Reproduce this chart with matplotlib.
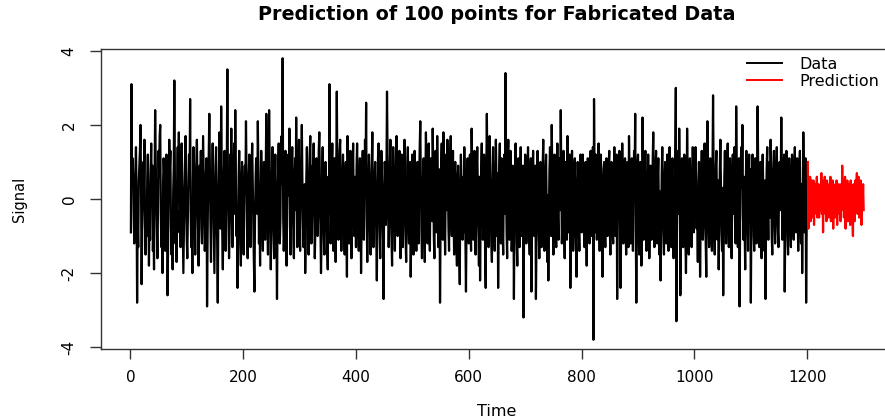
import numpy as np
import matplotlib
matplotlib.use("Agg")
import matplotlib.pyplot as plt
from matplotlib.lines import Line2D

# Observed signal, in blocks of 100 samples (t = 1 .. 1200)
signal_0001_0100 = [
    -0.9, 3.1, 0.4, 1.1, 0.6, -0.5, -1.2, -0.3, 0.8, 1.4,
    0.2, -2.8, -0.6, -1.3, 0.5, 0.9, 1.3, 2.0, 0.3, -2.3,
    -0.8, -0.2, 1.0, 0.4, 1.6, -0.7, -1.5, -0.4, -1.0, 0.6,
    1.2, 0.3, -1.8, -0.5, -1.1, 0.7, 1.5, 0.2, 0.9, -1.4,
    -0.6, -1.9, 0.5, 2.4, 1.0, 0.1, -0.9, -1.6, -0.3, 1.3,
    0.6, 1.7, 2.0, -0.4, -1.3, -0.8, -2.0, 0.4, 1.1, 0.7,
    -0.5, -1.4, -0.2, 1.2, 0.5, -2.6, -1.0, 0.3, 1.6, 0.8,
    1.3, -0.7, -1.5, -0.4, -1.9, 0.2, 0.9, 3.2, 0.6, -1.2,
    -0.4, -1.7, 0.5, 1.4, 0.2, 1.8, -0.9, -0.3, -1.3, 0.7,
    1.5, 0.4, -0.6, -2.0, -0.8, 0.3, 1.1, 1.7, -0.2, -1.1,
]
signal_0101_0200 = [
    -1.6, -0.5, 0.6, 1.2, 0.3, 2.7, -0.4, -1.3, -0.7, -2.0,
    0.5, 1.4, 0.8, -0.6, -1.5, -0.2, 1.0, 1.6, 0.4, -1.0,
    -1.8, -0.3, 0.9, 0.2, 1.3, -0.8, -1.2, 0.4, 1.7, 0.6,
    -0.5, -1.4, -0.9, 0.7, 1.1, -2.9, -1.0, 0.5, 1.2, 2.3,
    0.8, -0.6, -1.7, -0.2, 0.6, 1.5, 0.3, -1.1, -2.0, -0.4,
    0.9, 1.4, 0.1, -1.3, -2.8, -0.5, 0.7, 1.8, 0.4, -0.8,
    2.5, 0.6, -1.0, -1.9, -0.3, 0.8, 1.3, -0.6, -1.4, 0.2,
    1.0, 3.5, 0.5, -0.7, -1.6, -0.9, 1.2, 0.4, 1.9, -0.5,
    -1.3, -0.2, 0.8, 1.5, -0.4, 2.4, 0.7, -1.0, -0.3, -2.4,
    -0.8, 0.6, 1.3, 0.2, -1.2, -1.8, 0.4, 1.0, 0.5, -0.7,
]
signal_0201_0300 = [
    -1.5, -0.4, 0.9, 0.3, 2.1, 0.6, -0.8, -1.6, -0.2, 0.7,
    1.2, -0.5, -1.3, -0.1, 0.8, 1.5, 0.4, -0.9, -1.7, -2.5,
    -0.6, 0.5, 1.1, 0.3, -0.4, 2.1, 0.8, -1.2, -0.5, -1.8,
    0.2, 1.3, 0.6, -0.7, -1.4, 0.4, 1.0, -0.3, -1.1, 0.5,
    2.3, 0.9, -0.6, -1.5, 0.3, 2.4, 1.1, -0.4, -1.9, -0.7,
    0.6, 1.4, -0.2, -1.0, -1.6, 0.5, 1.2, 0.2, -0.9, -2.7,
    -0.4, 0.8, 1.5, 0.3, -1.2, -0.6, 1.0, 1.7, 0.4, 3.8,
    -0.5, -1.4, -0.8, 0.6, 1.3, -0.3, -1.8, -0.2, 0.9, 1.2,
    0.1, 1.9, -0.7, -1.5, -0.4, 0.7, 1.4, 0.3, -1.0, -1.6,
    0.5, 1.1, -0.3, 2.2, 0.6, -1.3, -0.5, 0.8, 1.6, -0.9,
]
signal_0301_0400 = [
    -1.4, 0.3, 0.8, 2.0, 0.5, -0.6, -1.3, -0.2, 0.4, -2.0,
    -0.9, 0.6, 1.4, 0.2, -0.7, -1.5, 0.3, 1.2, 1.7, -0.4,
    -1.2, -0.6, 0.9, 0.4, 1.5, -0.3, -1.6, -0.8, 0.5, 1.1,
    0.3, -1.0, -0.4, 1.3, 1.8, 0.6, -0.5, -2.0, -1.1, 0.7,
    1.4, 0.2, -0.9, -1.5, 0.4, 1.0, 0.5, -0.7, -1.3, -1.9,
    0.6, -0.4, 3.1, 0.9, -1.2, -0.5, 0.7, 1.5, -0.8, -1.4,
    0.2, 1.1, -0.6, -1.7, 0.4, 2.9, 0.8, -0.3, -1.1, 0.5,
    1.3, 1.6, -0.2, -1.4, -0.7, 0.6, 1.2, 0.3, -1.0, -1.5,
    0.4, 1.0, -0.5, -2.1, 1.7, 0.8, -0.3, -1.2, 0.5, 1.3,
    -0.6, -1.6, 0.2, 0.9, 1.5, -0.4, -1.0, 0.6, 0.1, -1.3,
]
signal_0401_0500 = [
    0.8, 1.5, 0.3, -0.7, -1.4, 0.5, 1.1, 0.2, -2.0, -0.6,
    0.7, 1.3, -0.4, -1.1, 0.3, 1.6, 0.6, 2.6, -0.5, -1.7,
    -0.8, 0.4, 1.2, 0.6, -1.0, -1.5, -0.3, 0.9, 1.8, -0.2,
    -1.3, -0.6, 0.5, 1.0, 0.2, -0.9, -2.2, -0.4, 1.1, 1.5,
    0.3, -0.8, -1.6, 0.4, 1.3, 0.7, -0.5, -1.2, -2.7, 0.2,
    1.0, 0.5, -0.7, 0.6, 2.9, 1.2, -0.4, -1.3, -0.6, 0.8,
    1.6, 0.2, -1.1, -1.8, 0.3, 1.4, 0.7, -0.5, -1.4, 0.1,
    1.1, 1.7, -0.3, -1.0, -0.4, 0.8, 1.3, -0.7, -1.6, 0.4,
    1.2, 0.3, -1.3, -0.5, 0.6, 1.6, 0.2, -1.1, -1.7, -0.2,
    0.9, 1.4, -0.6, -1.2, 0.4, 1.0, -2.1, -0.8, 0.5, 1.2,
]
signal_0501_0600 = [
    -0.4, -1.5, 0.3, 1.3, 0.6, -0.9, -1.4, 0.2, 1.0, -0.6,
    -1.2, 0.5, 1.4, 2.1, 0.4, -0.8, -1.6, -0.3, 0.7, 1.1,
    -0.5, -1.7, 0.4, 1.8, 0.9, -0.3, -1.2, 0.6, 1.5, -0.8,
    -1.4, 0.3, 1.1, 0.5, -0.6, 1.9, 0.8, -1.0, -1.6, 0.2,
    1.3, 0.6, -0.9, 1.7, 0.4, -1.3, -0.5, 0.8, -2.8, -0.7,
    0.9, 1.5, 0.2, -1.1, 1.8, 0.6, -0.4, -1.5, 0.3, 1.2,
    -0.3, 1.6, 0.5, -0.8, -1.4, 0.4, 1.1, 1.7, -0.6, -1.0,
    0.2, 1.3, -0.5, -1.5, 0.7, 1.0, 0.3, -1.2, -1.8, 0.5,
    0.9, -0.4, -1.3, -2.3, 0.3, 1.2, 0.5, -0.7, -1.1, 0.6,
    -0.9, 1.4, 0.4, -1.0, -2.5, -0.6, 0.8, 1.1, -0.2, -1.2,
]
signal_0601_0700 = [
    0.4, 1.2, -0.6, -1.4, 1.9, 0.7, -0.3, -1.1, 0.5, 1.3,
    -0.2, -1.5, -0.7, 0.8, 1.4, 0.3, -0.9, -1.8, 0.6, -2.2,
    -0.4, 0.9, 1.5, 0.2, -1.1, -0.5, 1.2, 0.4, -1.6, -2.4,
    0.6, 2.3, 0.9, -0.7, -1.3, 0.4, 1.7, 0.8, -0.5, -1.2,
    -1.7, 0.3, 1.4, 0.6, -0.8, -1.4, 0.2, 1.6, 0.5, -1.0,
    0.7, -2.4, -0.6, 0.9, 1.5, -0.3, -1.2, 1.1, 0.4, -0.9,
    -1.5, 0.5, 1.2, -0.4, 3.4, 0.6, -0.9, -1.6, 1.0, 1.6,
    0.3, -1.1, -0.5, 1.3, 0.7, -1.4, -0.8, 0.9, 0.2, -2.7,
    -0.6, 0.8, 1.5, 0.4, -1.2, -1.8, 0.3, 1.1, -0.7, -1.3,
    0.5, 1.4, 0.2, -1.0, -0.4, 0.9, -3.2, -0.9, 0.6, 1.2,
]
signal_0701_0800 = [
    0.3, -1.2, -0.6, 0.8, 1.4, 0.2, -0.9, -1.5, 0.4, 1.1,
    -2.5, -0.8, 0.6, 1.3, 0.3, -1.0, -0.4, 0.9, -2.7, -1.1,
    0.5, 1.3, 0.2, -0.8, -1.6, 0.4, 1.0, 0.6, -1.3, -0.5,
    0.9, 1.6, -0.2, -1.4, -0.6, 0.7, 1.2, -0.3, -1.7, 0.1,
    -2.2, -0.4, 0.8, 1.4, 0.3, -1.0, 2.0, 0.6, -0.7, -1.5,
    0.4, 1.2, 0.7, -0.9, -1.3, 0.2, 1.5, -0.5, -1.1, 0.6,
    1.1, -0.3, 2.4, 0.5, -1.2, -0.6, 0.9, 1.3, -0.8, -1.6,
    0.2, 1.0, -0.5, -1.1, 1.7, 0.4, -0.9, 0.6, 1.2, -2.4,
    -0.7, 0.5, 1.3, 0.2, -1.4, -0.6, 0.8, 1.1, -0.4, -1.2,
    -2.1, 0.3, 1.0, 0.6, -0.8, -1.4, 0.5, 1.2, -0.3, -0.9,
]
signal_0801_0900 = [
    0.6, 1.2, 0.3, -0.8, -1.3, 0.4, 1.0, -0.5, -1.8, 0.2,
    1.1, 0.5, -0.9, -1.2, 0.7, 1.3, -0.2, -1.0, 0.8, 1.4,
    -3.8, 2.7, 0.6, -0.9, 1.2, 0.3, -1.1, -0.4, 0.9, 1.5,
    -0.3, -1.4, 0.5, 1.2, 0.6, -0.7, -2.1, -0.5, 0.8, 1.0,
    -0.6, -1.3, 0.4, 1.1, 0.2, -1.0, -0.3, 0.9, 1.3, -0.8,
    -1.5, 0.3, 1.0, 0.5, -0.9, -1.2, 0.6, 1.4, -0.4, -1.0,
    0.7, 1.2, -2.7, -0.6, 0.8, 0.3, 1.3, -0.5, -2.4, -0.9,
    0.4, 1.5, 0.7, -1.2, -0.5, 0.9, 1.1, -0.8, -1.5, 0.2,
    1.0, -0.6, -1.3, 1.7, 0.6, -0.4, -1.2, 0.5, 1.1, -0.7,
    -1.4, 0.3, 1.3, 0.6, 2.3, -0.8, -2.8, -0.5, 0.9, 1.2,
]
signal_0901_1000 = [
    -0.7, -1.5, 0.4, 1.0, 0.3, -1.8, -0.6, 2.2, 0.8, -1.1,
    -0.4, 0.7, 1.3, -0.2, -1.4, -0.7, 0.5, 1.2, 0.4, -1.6,
    -0.5, 0.9, 0.3, -1.1, -0.6, 1.0, 1.8, 0.4, -1.3, -0.7,
    0.8, 1.3, -0.4, -1.2, 0.6, 1.1, -0.5, -1.5, 0.2, -2.2,
    -0.6, 0.7, 1.4, 0.3, -0.9, -1.5, 0.4, 1.0, -0.3, -1.2,
    0.5, 1.2, -0.7, -1.4, 0.2, 1.4, 0.6, -0.8, -1.3, 0.4,
    1.1, -0.5, -1.6, 0.6, -0.3, 1.2, 3.0, -3.3, -0.8, 0.7,
    1.3, -0.4, 1.9, 0.5, -2.6, -0.9, 0.6, 1.1, -0.6, -1.3,
    0.4, 1.2, 0.5, -1.1, -2.0, -0.5, 1.9, 0.7, -0.8, -1.5,
    0.3, 1.1, 0.6, -0.7, -1.3, 0.2, 1.4, 0.5, -0.9, -0.4,
]
signal_1001_1100 = [
    0.6, 1.4, 0.2, -0.8, -0.4, -1.7, 0.5, 1.0, 0.3, -2.1,
    -0.6, 0.8, 1.3, 0.4, -1.1, -0.5, 0.7, 1.5, -0.3, -1.2,
    -2.1, 0.4, 2.1, 0.9, -0.6, -1.3, 0.3, 1.1, 0.5, -0.9,
    -1.4, 0.6, 2.8, 0.7, -0.8, -1.5, -0.2, 0.9, 1.3, -0.4,
    -1.1, 0.5, -1.9, -0.6, 0.8, 1.6, 0.4, -0.9, -1.4, 0.3,
    -2.6, -0.7, 0.6, 1.3, 0.2, -1.2, -0.5, 0.9, 1.5, -0.3,
    -1.3, 0.4, 1.1, 0.6, -0.9, -1.6, 0.3, 1.2, -0.4, 0.8,
    1.4, -0.6, -1.2, 2.5, 0.7, -0.5, -1.3, 0.4, 1.1, -2.9,
    -0.7, 0.9, 1.4, 0.3, 2.0, -0.4, -1.1, 0.6, -0.8, -1.9,
    0.4, 1.3, 0.7, -0.6, -1.4, 0.5, 1.2, -0.2, 0.8, -2.8,
]
signal_1101_1200 = [
    -0.5, 0.7, 1.2, 0.4, -1.0, -1.4, 0.3, 1.1, -0.6, -1.2,
    0.5, 2.5, 0.8, -0.7, -1.3, 0.2, 1.0, -0.4, -1.6, 0.6,
    1.2, 0.3, -0.9, -1.4, 0.5, -2.7, -0.6, 0.8, 1.4, -0.3,
    -1.1, 0.4, 1.0, -0.5, 1.6, 0.7, -1.0, -1.5, 0.2, 0.9,
    1.3, -0.4, -1.2, -0.6, 0.8, 1.4, 0.3, -0.9, -1.3, 0.5,
    1.0, -0.3, 0.6, 2.2, 0.5, -1.1, -0.4, 0.7, 1.2, -2.5,
    -0.8, 0.4, 1.3, 0.6, -1.0, -1.5, 0.2, 1.1, 0.5, -0.7,
    -1.3, 0.3, 1.2, 0.7, -0.6, -1.1, 0.5, 1.4, -0.2, -0.9,
    0.6, 1.1, -0.5, -1.4, -0.3, 0.9, 1.3, -0.8, -1.2, 0.4,
    -2.0, -0.4, 1.8, 0.6, -0.9, 0.3, 1.1, -2.8, -0.7, 0.5,
]

# Forecast for the next 100 samples (t = 1201 .. 1300)
prediction = [
    1.0, -0.8, 0.4, -0.3, 0.6, -0.6, 0.2, 0.5, -0.5, 0.1,
    0.5, -0.7, 0.3, -0.2, 0.4, -0.4, 0.6, -0.5, 0.1, 0.4,
    -0.5, 0.3, -0.3, 0.2, 0.7, -0.4, 0.5, -0.9, 0.3, -0.2,
    0.6, -0.4, 0.1, -0.6, 0.5, -0.2, 0.3, -0.5, 0.4, -0.3,
    0.6, -0.6, 0.2, -0.4, 0.5, -0.8, 0.3, 0.1, -0.5, 0.4,
    -0.2, 0.5, -0.7, 0.3, -0.1, 0.4, -0.4, 0.2, -0.6, 0.4,
    -0.3, 0.9, -0.3, 0.5, -0.5, 0.1, 0.6, -0.8, 0.3, -0.2,
    0.5, -0.6, 0.2, -0.3, 0.4, -0.7, 0.5, -0.1, 0.3, -0.5,
    -1.0, 0.4, 0.1, -0.6, 0.5, -0.2, 0.3, 0.7, -0.4, 0.2,
    0.6, -0.5, 0.2, -0.3, 0.5, -0.7, 0.3, -0.2, 0.4, -0.3,
]

x_ticks = [0, 200, 400, 600, 800, 1000, 1200]
y_ticks = [-4, -2, 0, 2, 4]
legend_labels = ["Data", "Prediction"]

observed = np.concatenate([
    signal_0001_0100, signal_0101_0200, signal_0201_0300, signal_0301_0400,
    signal_0401_0500, signal_0501_0600, signal_0601_0700, signal_0701_0800,
    signal_0801_0900, signal_0901_1000, signal_1001_1100, signal_1101_1200,
])
forecast = np.asarray(prediction)
t_obs = np.arange(1, len(observed) + 1)
t_pred = np.arange(len(observed) + 1, len(observed) + len(forecast) + 1)

W, H = 885, 419
fig = plt.figure(figsize=(W / 100, H / 100), dpi=100)
ax = fig.add_axes([101 / W, 1 - 349 / H, (893 - 101) / W, (349 - 49) / H])

ax.plot(t_obs, observed, color="black", lw=1.6)
ax.plot(t_pred, forecast, color="red", lw=1.6)

ax.set_xlim(-52, 1352)
ax.set_ylim(-4.05, 4.05)
ax.set_xticks(x_ticks)
ax.set_yticks(y_ticks)
ax.set_xticklabels([str(v) for v in x_ticks])
ax.set_yticklabels([str(v) for v in y_ticks])

for side in ("left", "bottom", "top"):
    ax.spines[side].set_color("#333333")
    ax.spines[side].set_linewidth(1.0)
ax.spines["right"].set_visible(False)

ax.tick_params(axis="x", direction="out", length=7, width=1.0,
               color="#333333", labelsize=11, pad=8)
ax.tick_params(axis="y", direction="out", length=8, width=1.0,
               color="#333333", labelsize=11, pad=15)
for lab in ax.get_yticklabels():
    lab.set_rotation(90)
    lab.set_horizontalalignment("center")
    lab.set_verticalalignment("center")

fig.text(497 / W, 1 - 15 / H, "Prediction of 100 points for Fabricated Data",
         ha="center", va="center", fontsize=13.8, fontweight="bold")
fig.text(497 / W, 1 - 411 / H, "Time", ha="center", va="center", fontsize=11.5)
fig.text(20 / W, 1 - 199 / H, "Signal", ha="center", va="center",
         rotation=90, fontsize=10.5)

handles = [Line2D([], [], color="black", lw=1.4),
           Line2D([], [], color="red", lw=1.4)]
ax.legend(handles, legend_labels, loc="upper left",
          bbox_to_anchor=(747 / W, 1 - 57 / H), bbox_transform=fig.transFigure,
          frameon=False, fontsize=11.5, borderpad=0, borderaxespad=0,
          handlelength=2.2, handletextpad=1.1, labelspacing=0.1)

fig.savefig("out.png", dpi=100)
